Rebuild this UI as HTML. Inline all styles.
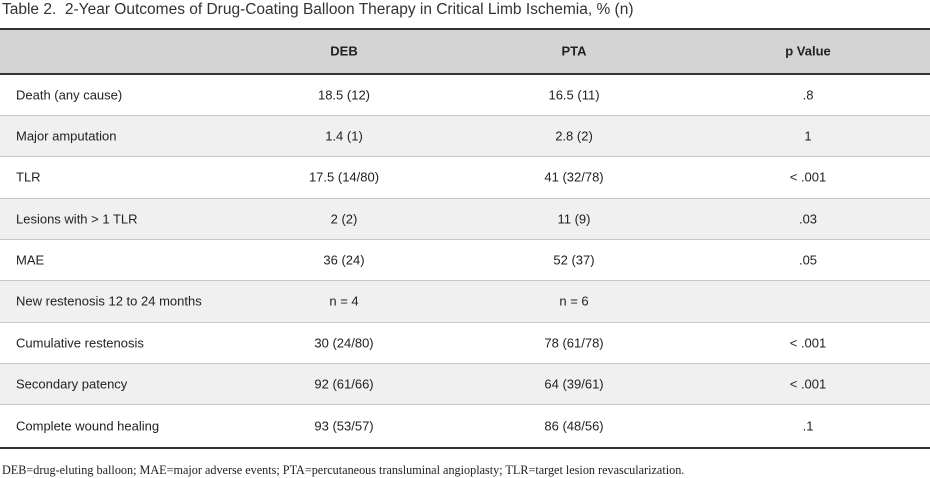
<!DOCTYPE html>
<html><head><meta charset="utf-8"><style>
body{margin:0;width:930px;height:478px;background:#fff;font-family:"Liberation Sans",Arial,sans-serif;color:#222;position:relative;overflow:hidden}
.t{position:absolute;left:2px;top:1px;font-size:15.5px;color:#333;white-space:nowrap}
.tbl{position:absolute;left:0;top:28px;width:930px;border-top:2px solid #333;border-bottom:2px solid #333}
.r{height:40.35px;position:relative;border-bottom:1px solid #c8c8c8;font-size:13px}
.r:last-child{border-bottom:none;height:41.5px}
.h{height:42.5px;background:#d4d4d4;border-bottom:2px solid #333;font-weight:bold}
.g{background:#f0f0f0}
.r span{position:absolute;top:50%;transform:translate(-50%,-50%);white-space:nowrap}
.r span.l{left:16px;transform:translateY(-50%)}
.a{left:344px}.b{left:574px}.c{left:808px}
.f{position:absolute;left:2px;top:463px;font-family:"Liberation Serif",serif;font-size:12.2px;color:#222;white-space:nowrap}
</style></head><body>
<div class="t">Table 2.&nbsp; 2-Year Outcomes of Drug-Coating Balloon Therapy in Critical Limb Ischemia, % (n)</div>
<div class="tbl">
<div class="r h"><span class="a">DEB</span><span class="b">PTA</span><span class="c">p Value</span></div>
<div class="r"><span class="l">Death (any cause)</span><span class="a">18.5 (12)</span><span class="b">16.5 (11)</span><span class="c">.8</span></div>
<div class="r g"><span class="l">Major amputation</span><span class="a">1.4 (1)</span><span class="b">2.8 (2)</span><span class="c">1</span></div>
<div class="r"><span class="l">TLR</span><span class="a">17.5 (14/80)</span><span class="b">41 (32/78)</span><span class="c">&lt; .001</span></div>
<div class="r g"><span class="l">Lesions with &gt; 1 TLR</span><span class="a">2 (2)</span><span class="b">11 (9)</span><span class="c">.03</span></div>
<div class="r"><span class="l">MAE</span><span class="a">36 (24)</span><span class="b">52 (37)</span><span class="c">.05</span></div>
<div class="r g"><span class="l">New restenosis 12 to 24 months</span><span class="a">n = 4</span><span class="b">n = 6</span></div>
<div class="r"><span class="l">Cumulative restenosis</span><span class="a">30 (24/80)</span><span class="b">78 (61/78)</span><span class="c">&lt; .001</span></div>
<div class="r g"><span class="l">Secondary patency</span><span class="a">92 (61/66)</span><span class="b">64 (39/61)</span><span class="c">&lt; .001</span></div>
<div class="r"><span class="l">Complete wound healing</span><span class="a">93 (53/57)</span><span class="b">86 (48/56)</span><span class="c">.1</span></div>
</div>
<div class="f">DEB=drug-eluting balloon; MAE=major adverse events; PTA=percutaneous transluminal angioplasty; TLR=target lesion revascularization.</div>
</body></html>
